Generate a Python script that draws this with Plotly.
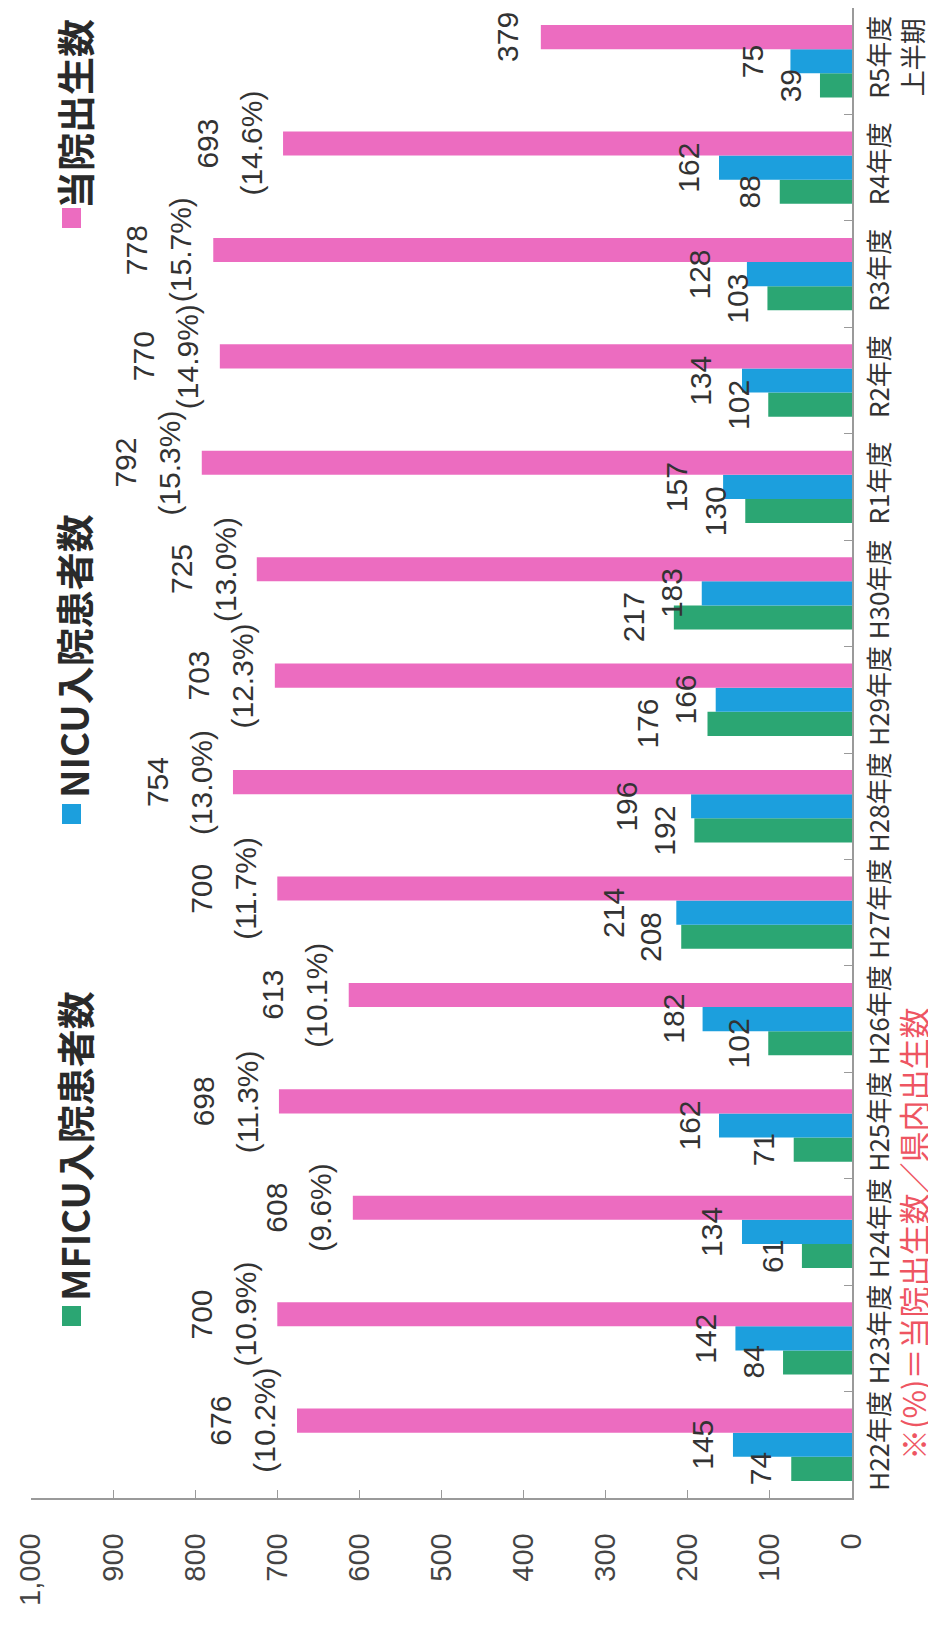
import plotly.graph_objects as go

# data
categories = ["H22年度", "H23年度", "H24年度", "H25年度", "H26年度", "H27年度", "H28年度",
              "H29年度", "H30年度", "R1年度", "R2年度", "R3年度", "R4年度", "R5年度<br>上半期"]
mficu = [74, 84, 61, 71, 102, 208, 192, 176, 217, 130, 102, 103, 88, 39]
nicu = [145, 142, 134, 162, 182, 214, 196, 166, 183, 157, 134, 128, 162, 75]
births = [676, 700, 608, 698, 613, 700, 754, 703, 725, 792, 770, 778, 693, 379]
birth_share = [10.2, 10.9, 9.6, 11.3, 10.1, 11.7, 13.0, 12.3, 13.0, 15.3, 14.9, 15.7, 14.6, None]
value_ticks = [0, 100, 200, 300, 400, 500, 600, 700, 800, 900, 1000]
series_names = ["MFICU入院患者数", "NICU入院患者数", "当院出生数"]
note = "※(%)＝当院出生数／県内出生数"

GREEN = "#2BA673"
BLUE = "#1C9FDD"
PINK = "#EC6CC0"
TEXT = "#333333"
AXIS = "#9a9a9a"
NUM_FONT = "Liberation Sans, Arial, sans-serif"
JP_FONT = "Noto Sans CJK JP, sans-serif"

W, H = 936, 1634
M = dict(l=23, r=92, t=0, b=144)
BARGAP = 0.32
PX_PER_UNIT = (W - M["l"] - M["r"]) / 1000


def px_x(px):
    return (px - M["l"]) / (W - M["l"] - M["r"])


def px_y(py):
    return (H - M["b"] - py) / (H - M["t"] - M["b"])


def num_label(x, y, text, shift):
    return dict(x=x, y=y, xref="x", yref="y", text=text, textangle=-90,
                showarrow=False, xanchor="center", yanchor="middle", xshift=shift,
                font=dict(family=NUM_FONT, size=30, color=TEXT))


fig = go.Figure()
for name, vals, color in zip(series_names, [mficu, nicu, births], [GREEN, BLUE, PINK]):
    fig.add_trace(go.Bar(y=categories, x=vals, orientation="h", name=name,
                         marker=dict(color=color, line_width=0), showlegend=False))

annotations = []
bar_w = (1 - BARGAP) / 3

# small labels (green / blue); when the two would collide the larger one steps left
for i, (g, b) in enumerate(zip(mficu, nicu)):
    gpos = g * PX_PER_UNIT + 30
    bpos = b * PX_PER_UNIT + 30
    if abs(gpos - bpos) < 38:
        if g >= b:
            gpos = bpos + 38
        else:
            bpos = gpos + 38
    annotations.append(num_label(g, i - bar_w, str(g), -(gpos - g * PX_PER_UNIT)))
    annotations.append(num_label(b, i, str(b), -(bpos - b * PX_PER_UNIT)))

# birth labels: count on the outer line, share next to the bar
for i, (v, p) in enumerate(zip(births, birth_share)):
    if p is None:
        annotations.append(num_label(v, i + bar_w, str(v), -34))
    else:
        annotations.append(num_label(v, i + bar_w, str(v), -76))
        annotations.append(num_label(v, i + bar_w, f"({p:.1f}%)", -32))

# legend drawn by hand (whole chart is rotated)
legend_pos = [(1308, 1138), (806, 648), (210, 106)]
shapes = []
for (sq_y, txt_y), name, color in zip(legend_pos, series_names, [GREEN, BLUE, PINK]):
    shapes.append(dict(type="rect", xref="paper", yref="paper",
                       x0=px_x(54), x1=px_x(73), y0=px_y(sq_y + 10), y1=px_y(sq_y - 10),
                       fillcolor=color, line_width=0))
    annotations.append(dict(x=px_x(65), y=px_y(txt_y), xref="paper", yref="paper",
                            text=f"<b>{name}</b>", textangle=-90, showarrow=False,
                            xanchor="center", yanchor="middle",
                            font=dict(family=JP_FONT, size=38, color="#2a2a2a")))

# footnote
annotations.append(dict(x=px_x(904), y=px_y(1226), xref="paper", yref="paper",
                        text=note, textangle=-90, showarrow=False,
                        xanchor="center", yanchor="middle",
                        font=dict(family=JP_FONT, size=31, color="#EE5562")))

fig.update_layout(
    width=W, height=H, margin=M,
    barmode="group", bargap=BARGAP, bargroupgap=0,
    plot_bgcolor="white", paper_bgcolor="white",
    annotations=annotations, shapes=shapes,
    xaxis=dict(range=[1000, 0], tickvals=value_ticks, tickformat=",", tickangle=-90,
               ticks="inside", ticklen=8, tickcolor=AXIS, showline=True, linecolor=AXIS,
               linewidth=1.5, showgrid=False, zeroline=False, ticklabelstandoff=22,
               tickfont=dict(family=NUM_FONT, size=29, color="#444444")),
    yaxis=dict(side="right", range=[-0.5, 13.5], tickangle=-90, ticks="inside",
               tickson="boundaries", ticklen=8, tickcolor=AXIS, showline=True,
               linecolor=AXIS, linewidth=1.5, showgrid=False, ticklabelstandoff=4,
               tickfont=dict(family=JP_FONT, size=26, color=TEXT)),
)

fig.write_html("out.html")
